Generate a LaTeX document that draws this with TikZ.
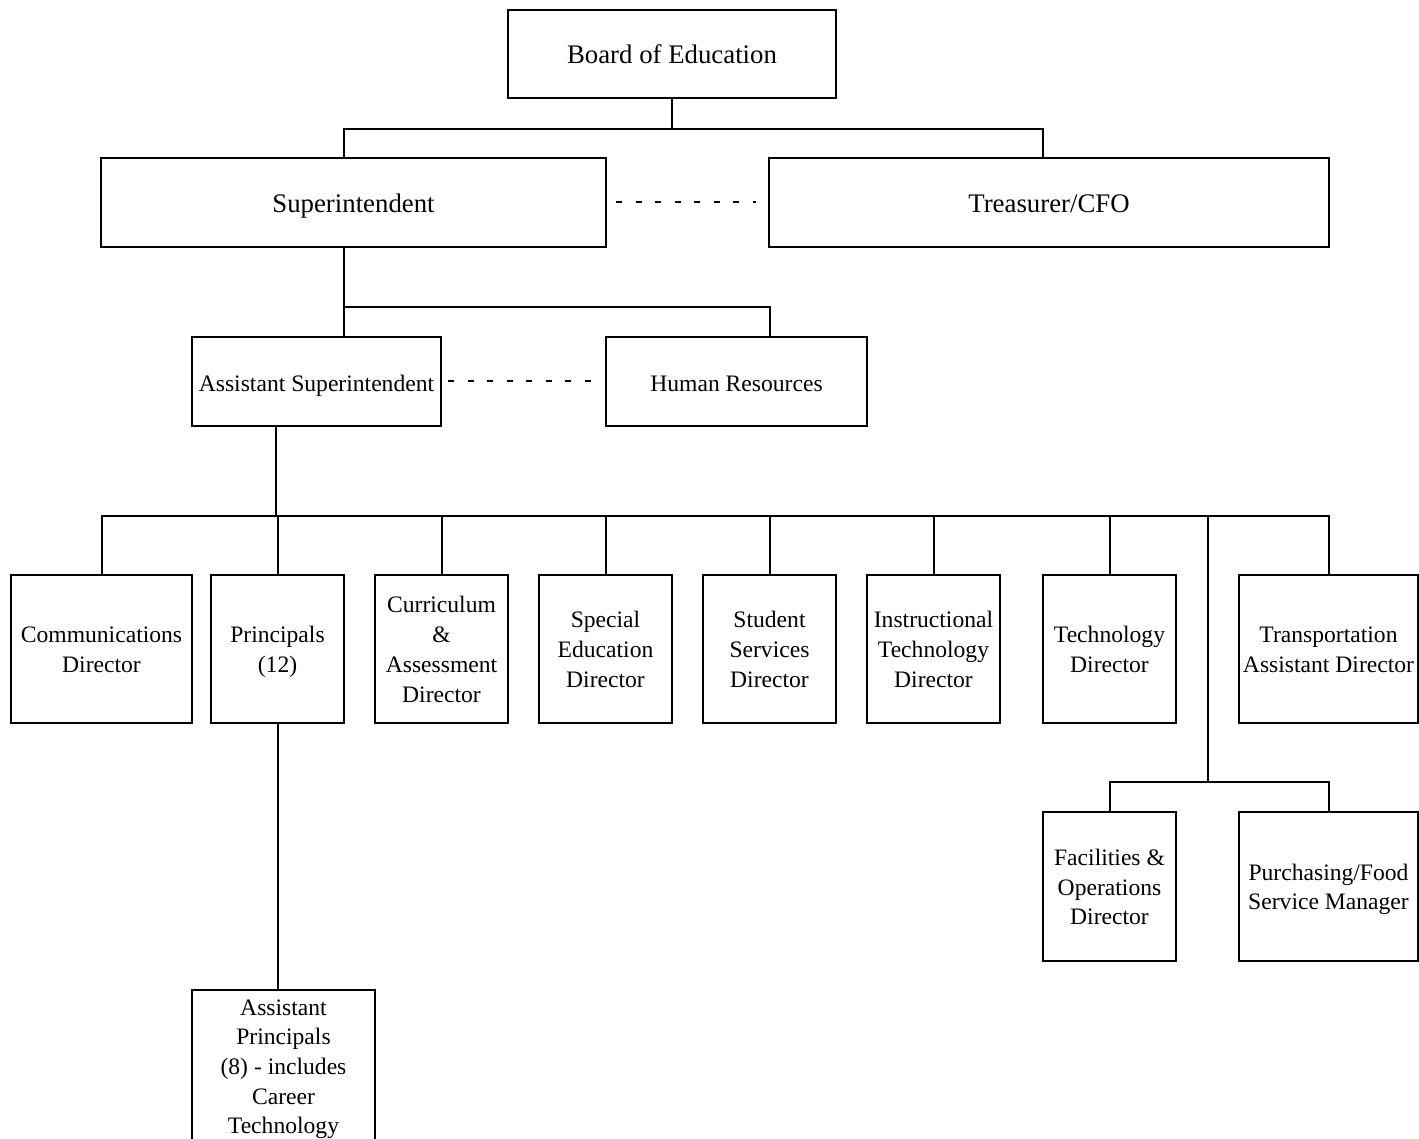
\documentclass[tikz,border=0pt]{standalone}
\usepackage{fontspec}
\setmainfont{Liberation Serif}
\newcommand\boxstrut{\rule[-8pt]{0pt}{36pt}}
\newcommand\firststrut{\rule{0pt}{25pt}}
\begin{document}
\begin{tikzpicture}[x=1pt,y=-1pt,
  box/.style={draw,line width=2pt,inner sep=0pt,align=center,
    font=\fontsize{23.6}{29.7}\selectfont,
    execute at begin node=\boxstrut, execute at end node=\boxstrut},
  bigbox/.style={box,font=\fontsize{26.8}{32}\selectfont},
  conn/.style={line width=2pt},
  dashcon/.style={line width=2pt,dash pattern=on 6pt off 13.5pt}]
\useasboundingbox (0,0) rectangle (1419,1139);
\clip (0,0) rectangle (1419,1139);
% top levels
\node[bigbox,minimum width=328,minimum height=88] (board) at (672,54) {Board of Education};
\node[bigbox,minimum width=505,minimum height=89] (sup) at (353.5,202.5) {Superintendent};
\node[bigbox,minimum width=560,minimum height=89] (treas) at (1049,202.5) {Treasurer/CFO};
\node[box,minimum width=249,minimum height=89] (asup) at (316.5,381.5) {Assistant Superintendent};
\node[box,minimum width=261,minimum height=89] (hr) at (736.5,381.5) {Human Resources};
% row
\node[box,minimum width=181,minimum height=148] (comm) at (101.5,649) {\firststrut Communications\\Director};
\node[box,minimum width=133,minimum height=148] (prin) at (277.5,649) {\firststrut Principals\\(12)};
\node[box,minimum width=133,minimum height=148] (curr) at (441.5,649) {\firststrut Curriculum\\\&\\Assessment\\Director};
\node[box,minimum width=133,minimum height=148] (sped) at (605.5,649) {\firststrut Special\\Education\\Director};
\node[box,minimum width=133,minimum height=148] (stud) at (769.5,649) {\firststrut Student\\Services\\Director};
\node[box,minimum width=133,minimum height=148] (inst) at (933.5,649) {\firststrut Instructional\\Technology\\Director};
\node[box,minimum width=133,minimum height=148] (tech) at (1109.5,649) {\firststrut Technology\\Director};
\node[box,minimum width=179,minimum height=148] (trans) at (1328.5,649) {\firststrut Transportation\\Assistant Director};
\node[box,minimum width=133,minimum height=149] (fac) at (1109.5,886.5) {\firststrut Facilities \&\\Operations\\Director};
\node[box,minimum width=179,minimum height=149] (purch) at (1328.5,886.5) {\firststrut Purchasing/Food\\Service Manager};
\node[box,minimum width=183,minimum height=150] (ap) at (283.5,1066) {\firststrut Assistant\\Principals\\(8) - includes\\Career\\Technology};
% bus coordinates
\coordinate (b1L) at (344,129);
\coordinate (b1R) at (1043,129);
\coordinate (b2L) at (344,307);
\coordinate (b2R) at (770,307);
\coordinate (b3) at (276,516);
\coordinate (b4) at (1208,516);
\coordinate (b5) at (1208,782);
% connectors
\draw[conn] (board.south) -- (board.south |- b1L);
\draw[conn] (sup.north -| b1L) -- (b1L) -- (b1R) -- (treas.north -| b1R);
\draw[conn] (sup.south -| b2L) -- (b2L) -- (b2R) -- (hr.north -| b2R);
\draw[conn] (b2L) -- (asup.north -| b2L);
\draw[conn] (asup.south -| b3) -- (b3);
\draw[conn] (comm.north) -- (comm.north |- b3) -- (trans.north |- b3) -- (trans.north);
\foreach \n in {prin,curr,sped,stud,inst,tech}
  \draw[conn] (\n.north) -- (\n.north |- b3);
\draw[conn] (b4) -- (b5);
\draw[conn] (fac.north) -- (fac.north |- b5) -- (purch.north |- b5) -- (purch.north);
\draw[conn] (prin.south) -- (prin.south |- ap.north);
% dotted relations
\draw[dashcon,shorten <=9pt,shorten >=12pt] (sup.east) -- (treas.west);
\draw[dashcon,shorten <=6pt,shorten >=14pt] (asup.east) -- (hr.west);
\end{tikzpicture}
\end{document}
